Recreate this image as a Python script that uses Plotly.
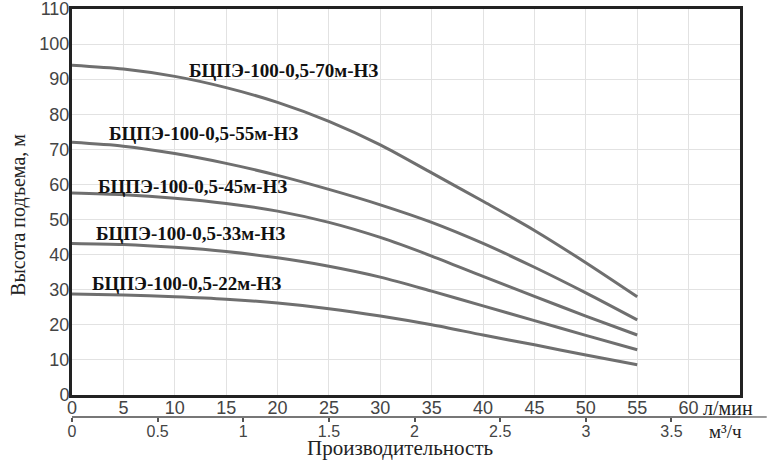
import plotly.graph_objects as go

# Flow, l/min
flow = [0, 5, 10, 15, 20, 25, 30, 35, 40, 45, 50, 55]

# Head, m, per pump model
head_70 = [94, 92.9, 90.8, 87.6, 83.4, 78, 71.3, 63.3, 55.2, 46.9, 37.7, 28]
head_55 = [72, 70.9, 68.8, 66, 62.6, 58.6, 54.2, 49.2, 43.2, 36.4, 29.1, 21.4]
head_45 = [57.6, 57.1, 56.1, 54.6, 52.4, 49.2, 44.9, 39.6, 33.8, 28.1, 22.5, 17.1]
head_33 = [43.2, 42.9, 42.1, 40.9, 39.1, 36.7, 33.6, 29.6, 25.4, 21.2, 17, 12.9]
head_22 = [28.8, 28.5, 28, 27.3, 26.2, 24.6, 22.5, 20, 17.1, 14.3, 11.4, 8.6]

models = ["БЦПЭ-100-0,5-70м-НЗ", "БЦПЭ-100-0,5-55м-НЗ", "БЦПЭ-100-0,5-45м-НЗ",
          "БЦПЭ-100-0,5-33м-НЗ", "БЦПЭ-100-0,5-22м-НЗ"]
heads = [head_70, head_55, head_45, head_33, head_22]
label_x = [20.6, 12.8, 11.7, 11.5, 11.1]
label_y = [92.6, 74.4, 59.5, 45.9, 31.9]

lpm_ticks = [0, 5, 10, 15, 20, 25, 30, 35, 40, 45, 50, 55, 60]
m3h_ticks = [0, 0.5, 1, 1.5, 2, 2.5, 3, 3.5]
LPM_PER_M3H = 1000 / 60

serif = "Liberation Serif"
sans = "Liberation Sans"

fig = go.Figure()

for name, h in zip(models, heads):
    fig.add_trace(go.Scatter(x=flow, y=h, mode="lines", name=name,
                             line=dict(color="#6f6f6f", width=3,
                                       shape="spline", smoothing=0.8),
                             showlegend=False))

# dummy trace so the m3/h axis gets drawn
fig.add_trace(go.Scatter(x=[0], y=[None], xaxis="x2", showlegend=False,
                         hoverinfo="skip"))

# curve labels
for name, lx, ly in zip(models, label_x, label_y):
    fig.add_annotation(x=lx, y=ly, text=name, showarrow=False,
                       font=dict(family=serif, size=19, color="#111",
                                 weight="bold"))

fig.add_annotation(x=0.491, y=-0.0186, xref="paper", yref="paper",
                   xanchor="center", yanchor="middle",
                   text="Производительность", showarrow=False,
                   font=dict(family=serif, size=21, color="#222"))
fig.add_annotation(x=-0.081, y=0.522, xref="paper", yref="paper",
                   xanchor="center", yanchor="middle",
                   text="Высота подъема, м", textangle=-90, showarrow=False,
                   font=dict(family=serif, size=20, color="#222"))
fig.add_annotation(x=61.2, y=0.074, xref="x", yref="paper",
                   xanchor="left", yanchor="middle",
                   text="л/мин", showarrow=False,
                   font=dict(family=serif, size=20, color="#222"))
fig.add_annotation(x=61.8, y=0.02, xref="x", yref="paper",
                   xanchor="left", yanchor="middle",
                   text="м³/ч", showarrow=False,
                   font=dict(family=serif, size=19, color="#222"))

# extension of the lower axis line under the unit labels
fig.add_shape(type="line", xref="paper", yref="paper", x0=1, x1=1.04,
              y0=0.0534, y1=0.0534, line=dict(color="#777", width=1.5))

fig.update_layout(
    width=768, height=460,
    margin=dict(l=72, r=28, t=9, b=20),
    paper_bgcolor="white", plot_bgcolor="white",
    xaxis=dict(range=[0, 65], tickvals=lpm_ticks, showgrid=True,
               gridcolor="#e2e2e2", gridwidth=1, zeroline=False,
               showline=True, mirror=True, linecolor="#222", linewidth=3,
               tickfont=dict(family=sans, size=18, color="#444"),
               ticklabelstandoff=-6, ticks="", anchor="y", automargin=False),
    xaxis2=dict(range=[0, 65 / LPM_PER_M3H], tickvals=m3h_ticks,
                ticktext=[str(t) if t % 1 else str(int(t)) for t in m3h_ticks],
                overlaying="x", anchor="free", position=0.0534, side="bottom",
                showgrid=False, zeroline=False, showline=True,
                linecolor="#777", linewidth=1.5, ticks="outside", ticklen=4,
                tickcolor="#555", tickwidth=1.5, automargin=False,
                ticklabelstandoff=-4,
                tickfont=dict(family=sans, size=16, color="#444")),
    yaxis=dict(range=[0, 110], dtick=10, domain=[0.1044, 1], showgrid=True,
               gridcolor="#e2e2e2", gridwidth=1, zeroline=False,
               showline=True, mirror=True, linecolor="#222", linewidth=3,
               tickfont=dict(family=sans, size=18, color="#444"), ticks="",
               ticklabelstandoff=-4, ticklabeloverflow="allow",
               automargin=False),
)

# page body has a default 8px margin; drop it so the figure sits at the corner
fig.write_html("out.html", config={"displayModeBar": False},
               post_script="document.body.style.margin='0px';")
